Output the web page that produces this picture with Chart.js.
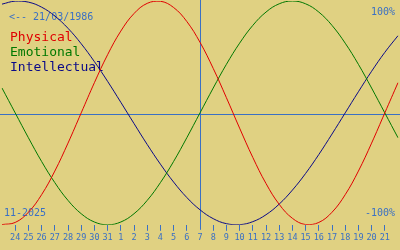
<!DOCTYPE html>
<html>
<head>
<meta charset="utf-8">
<script src="https://cdn.jsdelivr.net/npm/chart.js@4/dist/chart.umd.min.js"></script>
<style>
html,body{margin:0;padding:0;background:#e0d182;}
#wrap{width:400px;height:250px;position:relative;}
</style>
</head>
<body>
<div id="wrap"><canvas id="c" width="400" height="250"></canvas></div>
<script>
// Days shown: 23 Oct 2025 .. 22 Nov 2025
const dayLabels = [23,24,25,26,27,28,29,30,31,1,2,3,4,5,6,7,8,9,10,11,12,13,14,15,16,17,18,19,20,21,22];
const todayIndex = 15; // 7 Nov
const physical = [-0.998,-0.979,-0.888,-0.731,-0.520,-0.270,0,0.270,0.520,0.731,0.888,0.979,0.998,0.942,0.817,0.631,0.398,0.136,-0.136,-0.398,-0.631,-0.817,-0.942,-0.998,-0.979,-0.888,-0.731,-0.520,-0.270,0,0.270];
const emotional = [0.222,0,-0.222,-0.434,-0.623,-0.782,-0.901,-0.975,-1,-0.975,-0.901,-0.782,-0.623,-0.434,-0.222,0,0.222,0.434,0.623,0.782,0.901,0.975,1,0.975,0.901,0.782,0.623,0.434,0.222,0,-0.222];
const intellectual = [0.972,0.999,0.990,0.945,0.866,0.756,0.618,0.458,0.282,0.095,-0.095,-0.282,-0.458,-0.618,-0.756,-0.866,-0.945,-0.990,-0.999,-0.972,-0.910,-0.815,-0.690,-0.541,-0.372,-0.189,0,0.189,0.372,0.541,0.690];
const seriesNames = ['Physical','Emotional','Intellectual'];
const birthText = '<-- 21/03/1986';
const monthText = '11-2025';
const topText = '100%';
const bottomText = '-100%';

const BG = '#e0d182';
const BLUE = '#3a70c4';
const colors = ['#e00000','#007800','#0a0a88'];

const overlay = {
  id:'overlay',
  beforeDraw(chart){
    const c = chart.ctx;
    c.save();
    c.fillStyle = BG;
    c.fillRect(0,0,chart.width,chart.height);
    c.restore();
  },
  beforeDatasetsDraw(chart){
    const c = chart.ctx, a = chart.chartArea;
    const x = chart.scales.x, y = chart.scales.y;
    c.save();
    c.strokeStyle = BLUE; c.lineWidth = 1;
    const y0 = Math.round(y.getPixelForValue(0)) + 1.5;
    c.beginPath(); c.moveTo(0,y0); c.lineTo(chart.width,y0); c.stroke();
    const xt = Math.round(x.getPixelForValue(todayIndex)) + 0.5;
    c.beginPath(); c.moveTo(xt,0); c.lineTo(xt,a.bottom+5); c.stroke();
    c.fillStyle = BLUE;
    c.font = '10px "DejaVu Sans Mono"';
    c.textBaseline = 'middle';
    c.textAlign = 'left';
    c.fillText(birthText, 9, 17);
    c.fillText(monthText, 4, 213);
    c.textAlign = 'right';
    c.fillText(topText, 395, 12);
    c.fillText(bottomText, 395, 213);
    c.textAlign = 'left';
    c.font = '13px "DejaVu Sans Mono"';
    seriesNames.forEach((n,i)=>{
      c.fillStyle = colors[i];
      c.fillText(n, 10, 38 + i*15);
    });
    c.restore();
  }
};

new Chart(document.getElementById('c'), {
  type:'line',
  data:{
    labels: dayLabels,
    datasets:[
      {label:seriesNames[0], data:physical, borderColor:colors[0]},
      {label:seriesNames[1], data:emotional, borderColor:colors[1]},
      {label:seriesNames[2], data:intellectual, borderColor:colors[2]}
    ].map(d=>Object.assign(d,{borderWidth:1,pointRadius:0,tension:0.4,fill:false}))
  },
  options:{
    responsive:false,
    animation:false,
    events:[],
    layout:{padding:{top:1,bottom:5,left:0,right:0}},
    plugins:{legend:{display:false},tooltip:{enabled:false}},
    scales:{
      y:{display:false,min:-1,max:1},
      x:{
        offset:false,
        border:{display:false},
        grid:{drawOnChartArea:false,tickLength:6,lineWidth:1,
          color:ctx=> (ctx.index===0||ctx.index===dayLabels.length-1||ctx.index===todayIndex)?'rgba(0,0,0,0)':BLUE},
        ticks:{
          autoSkip:false,maxRotation:0,padding:2,color:BLUE,
          font:{family:'"DejaVu Sans Mono"',size:8.5},
          callback:(v,i)=> (i===0||i===dayLabels.length-1)?'':dayLabels[i]
        }
      }
    }
  },
  plugins:[overlay]
});
</script>
</body>
</html>
